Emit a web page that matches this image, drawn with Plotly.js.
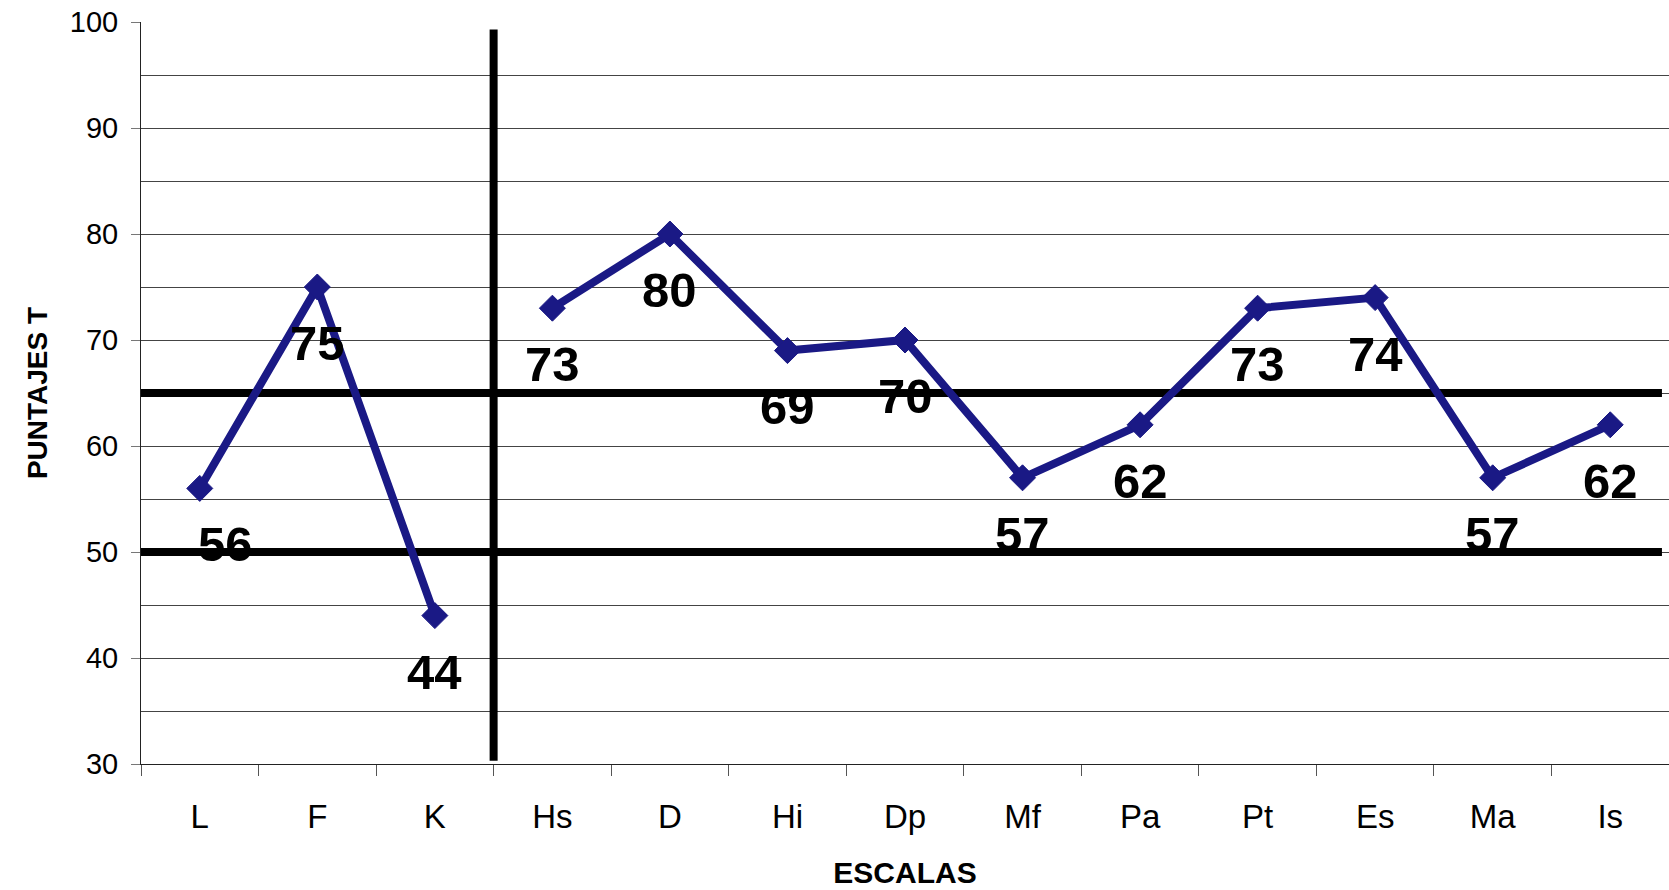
<!DOCTYPE html>
<html>
<head>
<meta charset="utf-8">
<script src="https://cdn.plot.ly/plotly-3.0.1.min.js"></script>
<style>
  html, body { margin: 0; padding: 0; background: #ffffff; }
  #chart { width: 1669px; height: 890px; }
</style>
</head>
<body>
<div id="chart"></div>
<script>
// Escalas del perfil y sus puntajes T
const escalas = ["L", "F", "K", "Hs", "D", "Hi", "Dp", "Mf", "Pa", "Pt", "Es", "Ma", "Is"];
const puntajesT = [56, 75, 44, 73, 80, 69, 70, 57, 62, 73, 74, 57, 62];

// Niveles de referencia (líneas gruesas horizontales)
const nivelesReferencia = [65, 50];
// Última escala de validez: separa el perfil en dos tramos
const ultimaEscalaValidez = "K";

const FONT = "Liberation Sans, Arial, sans-serif";
const NAVY = "#1A1985";

const corte = escalas.indexOf(ultimaEscalaValidez) + 1;

// Cada tramo del perfil se dibuja por separado (sin unir K con Hs)
function tramo(desde, hasta) {
  return {
    type: "scatter",
    mode: "lines+markers",
    x: escalas.slice(desde, hasta),
    y: puntajesT.slice(desde, hasta),
    line: { color: NAVY, width: 8 },
    marker: { symbol: "diamond", size: 20, color: NAVY, line: { color: NAVY, width: 1 } },
    hoverinfo: "x+y",
    showlegend: false
  };
}
const trazas = [tramo(0, corte), tramo(corte, escalas.length)];

// Etiquetas de valor bajo cada punto
const etiquetas = escalas.map((e, i) => ({
  x: e,
  y: puntajesT[i],
  xref: "x",
  yref: "y",
  text: String(puntajesT[i]),
  showarrow: false,
  yshift: -56,
  xshift: i === 0 ? 26 : 0,
  font: { family: FONT, size: 49, weight: 700, color: "#000000" }
}));

const lineas = nivelesReferencia.map(v => ({
  type: "line",
  xref: "x",
  yref: "y",
  x0: -0.5,
  x1: escalas.length - 0.56,
  y0: v,
  y1: v,
  layer: "between",
  line: { color: "#000000", width: 8 }
}));
lineas.push({
  type: "line",
  xref: "x",
  yref: "y",
  x0: corte - 0.5,
  x1: corte - 0.5,
  y0: 30.3,
  y1: 99.3,
  layer: "between",
  line: { color: "#000000", width: 8 }
});

const layout = {
  width: 1669,
  height: 890,
  margin: { l: 141, r: 0, t: 22, b: 126 },
  paper_bgcolor: "#ffffff",
  plot_bgcolor: "#ffffff",
  font: { family: FONT, color: "#000000" },
  xaxis: {
    type: "category",
    range: [-0.5, escalas.length - 0.5],
    tickson: "boundaries",
    ticks: "outside",
    ticklen: 11,
    tickwidth: 1,
    tickcolor: "#555555",
    showgrid: false,
    showline: true,
    linecolor: "#222222",
    linewidth: 1,
    zeroline: false,
    tickfont: { family: FONT, size: 33, color: "#000000" },
    ticklabelstandoff: 23,
    title: {
      text: "ESCALAS",
      font: { family: FONT, size: 30, weight: 700, color: "#000000" },
      standoff: 28
    },
    automargin: false
  },
  yaxis: {
    range: [30, 100],
    dtick: 10,
    tick0: 30,
    ticks: "outside",
    ticklen: 9,
    tickwidth: 1,
    tickcolor: "#777777",
    showgrid: true,
    gridcolor: "#444444",
    gridwidth: 1,
    minor: { dtick: 5, showgrid: true, gridcolor: "#444444", gridwidth: 1, ticks: "" },
    showline: true,
    linecolor: "#222222",
    linewidth: 1,
    zeroline: false,
    tickfont: { family: FONT, size: 29, color: "#000000" },
    ticklabelstandoff: 7,
    title: {
      text: "PUNTAJES T",
      font: { family: FONT, size: 28, weight: 700, color: "#000000" },
      standoff: 14
    },
    automargin: false
  },
  shapes: lineas,
  annotations: etiquetas,
  showlegend: false
};

Plotly.newPlot("chart", trazas, layout, { displayModeBar: false, staticPlot: true });
</script>
</body>
</html>
